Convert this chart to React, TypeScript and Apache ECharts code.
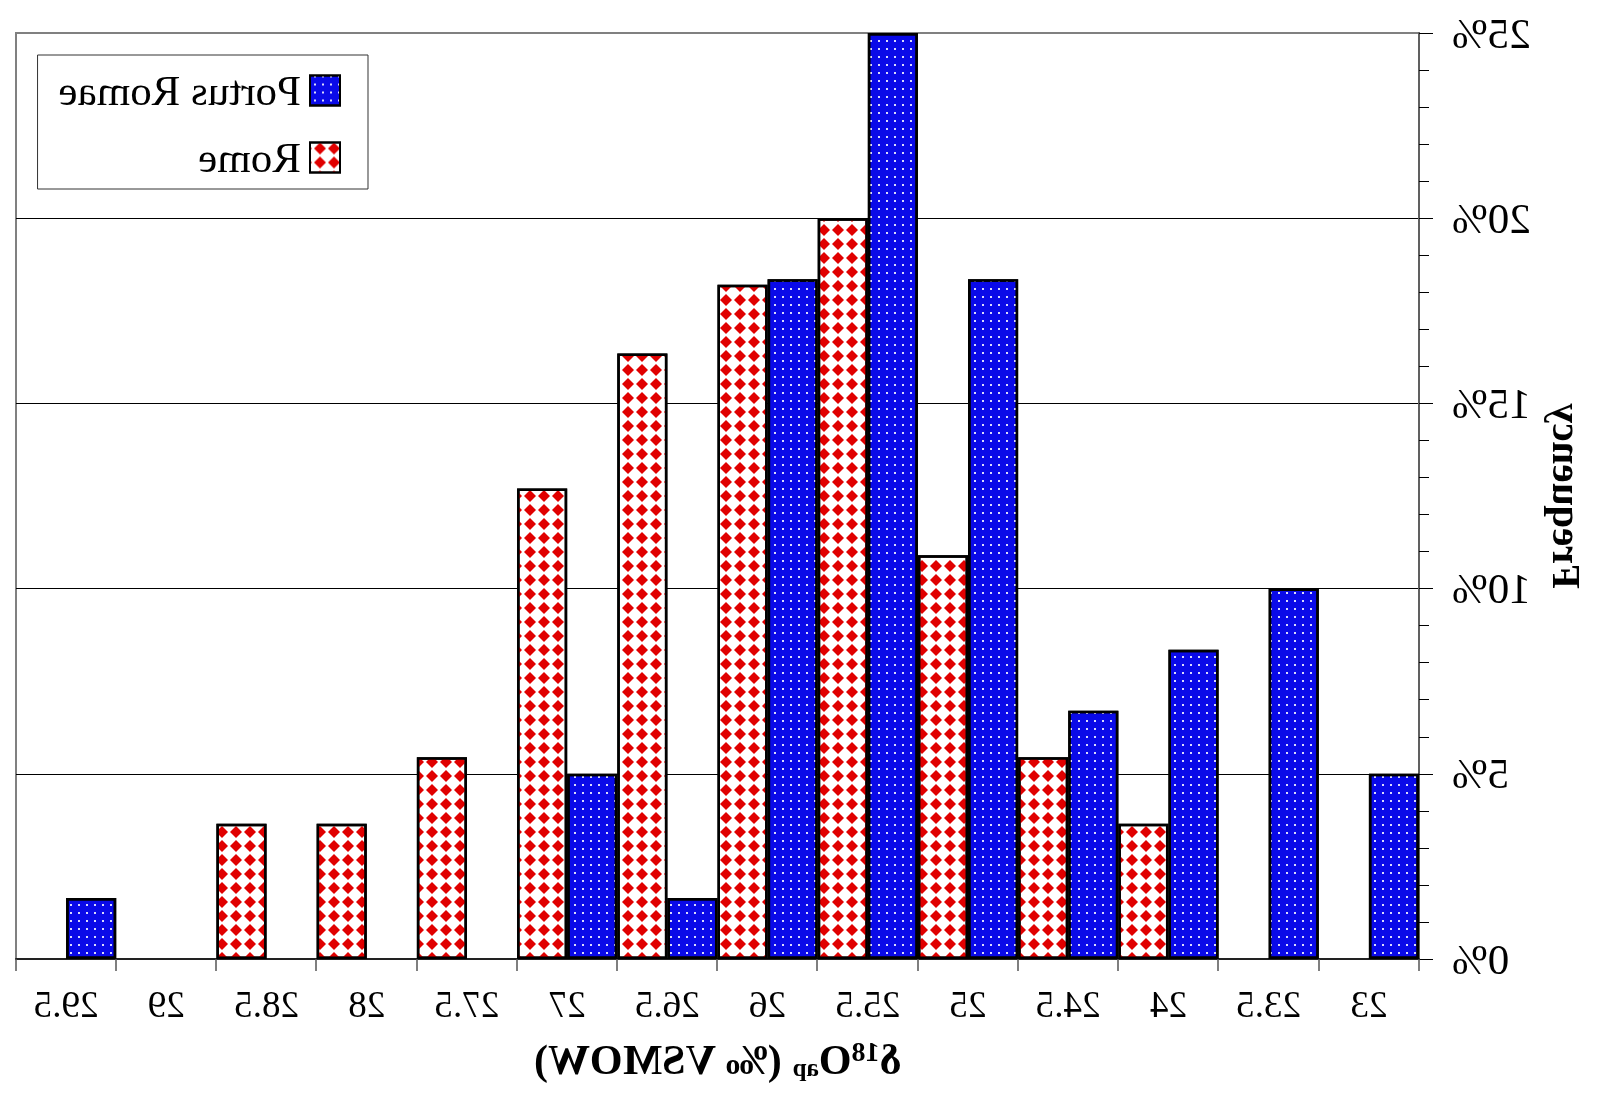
import React, { useEffect, useRef } from "react";
import * as echarts from "echarts";

const categories = ["23", "23.5", "24", "24.5", "25", "25.5", "26", "26.5", "27", "27.5", "28", "28.5", "29", "29.5"];
const portusRomae = [5.0, 10.0, 8.35, 6.7, 18.35, 25.0, 18.35, 1.65, 5.0, 0, 0, 0, 0, 1.65];
const rome = [0, 0, 3.65, 5.45, 10.9, 20.0, 18.2, 16.35, 12.7, 5.45, 3.65, 3.65, 0, 0];
const yTicks = [0, 5, 10, 15, 20, 25];

const SERIF = "'Liberation Serif', 'Times New Roman', serif";

const asBars = (vals: number[]) => vals.map((v) => (v === 0 ? "-" : v));

export default function App() {
  const ref = useRef<HTMLDivElement>(null);
  useEffect(() => {
    if (!ref.current) return;
    const chart = echarts.init(ref.current, undefined, { renderer: "svg" });
    chart.setOption({
      animation: false,
      backgroundColor: "#ffffff",
      grid: {
        left: 181,
        right: 16,
        top: 33,
        bottom: 142,
        show: true,
        borderColor: "#808080",
        borderWidth: 2,
        backgroundColor: "transparent",
      },
      legend: {
        orient: "vertical",
        left: 1232,
        top: 55,
        padding: [14, 21, 10, 27],
        itemWidth: 30,
        itemHeight: 30,
        itemGap: 24,
        icon: "rect",
        borderColor: "#333",
        borderWidth: 1,
        backgroundColor: "#fff",
        textStyle: {
          fontFamily: SERIF,
          fontSize: 43,
          color: "#000",
          padding: [0, 0, 0, 4],
        },
        data: ["Portus Romae", "Rome"],
      },
      xAxis: {
        type: "category",
        data: categories,
        name: "{d|δ}{sup|18}{o|O}{sub|ap}{o| (‰ VSMOW)}",
        nameLocation: "middle",
        nameGap: 76,
        nameTextStyle: {
          rich: {
            d: { fontFamily: SERIF, fontSize: 42, fontWeight: "bold", color: "#000", lineHeight: 50 },
            o: { fontFamily: SERIF, fontSize: 42, fontWeight: "bold", color: "#000", lineHeight: 50 },
            sup: { fontFamily: SERIF, fontSize: 28, fontWeight: "bold", color: "#000", lineHeight: 50, padding: [0, 0, 17, 0] },
            sub: { fontFamily: SERIF, fontSize: 25, fontWeight: "bold", color: "#000", lineHeight: 50, padding: [15, 0, 0, 0] },
          },
        },
        axisLine: { lineStyle: { color: "#222", width: 2 } },
        axisTick: { show: true, length: 12, lineStyle: { color: "#555", width: 1.5 } },
        axisLabel: {
          interval: 0,
          margin: 27,
          fontFamily: SERIF,
          fontSize: 37,
          color: "#000",
        },
        splitLine: { show: false },
      },
      yAxis: {
        type: "value",
        min: 0,
        max: 25,
        interval: 5,
        name: "Frequency",
        nameLocation: "middle",
        nameGap: 128,
        nameTextStyle: { fontFamily: SERIF, fontSize: 41, fontWeight: "bold", color: "#000" },
        axisLine: { show: true, lineStyle: { color: "#606060", width: 2 } },
        axisTick: { show: true, length: 14, lineStyle: { color: "#000", width: 1 } },
        minorTick: { show: true, splitNumber: 5, length: 10, lineStyle: { color: "#000", width: 1 } },
        axisLabel: {
          margin: 33,
          fontFamily: SERIF,
          fontSize: 43,
          color: "#000",
          formatter: (v: number) => (yTicks.includes(v) ? v + "%" : ""),
        },
        splitLine: {
          show: true,
          lineStyle: { color: ["#000", "#000", "#000", "#000", "#000", "#808080"], width: 1 },
        },
      },
      series: [
        {
          name: "Portus Romae",
          type: "bar",
          data: asBars(portusRomae),
          barGap: "0%",
          barCategoryGap: "0%",
          itemStyle: {
            color: "#0a0ae8",
            borderColor: "#000",
            borderWidth: 2.5,
            decal: {
              symbol: "rect",
              symbolSize: 1,
              color: "rgba(255,255,255,0.85)",
              dashArrayX: [1.6, 5.2],
              dashArrayY: [1.6, 5.2],
              rotation: 0,
            },
          },
        },
        {
          name: "Rome",
          type: "bar",
          data: asBars(rome),
          barGap: "0%",
          barCategoryGap: "0%",
          itemStyle: {
            color: "#ffffff",
            borderColor: "#000",
            borderWidth: 2.5,
            decal: {
              symbol: "diamond",
              symbolSize: 1,
              color: "#e00000",
              dashArrayX: [12, 2],
              dashArrayY: [12, 2],
              rotation: 0,
            },
          },
        },
      ],
    });
    return () => chart.dispose();
  }, []);
  return (
    <div
      ref={ref}
      style={{
        position: "fixed",
        left: 0,
        top: 0,
        width: 1600,
        height: 1101,
        transform: "scaleX(-1)",
        background: "#fff",
      }}
    />
  );
}
